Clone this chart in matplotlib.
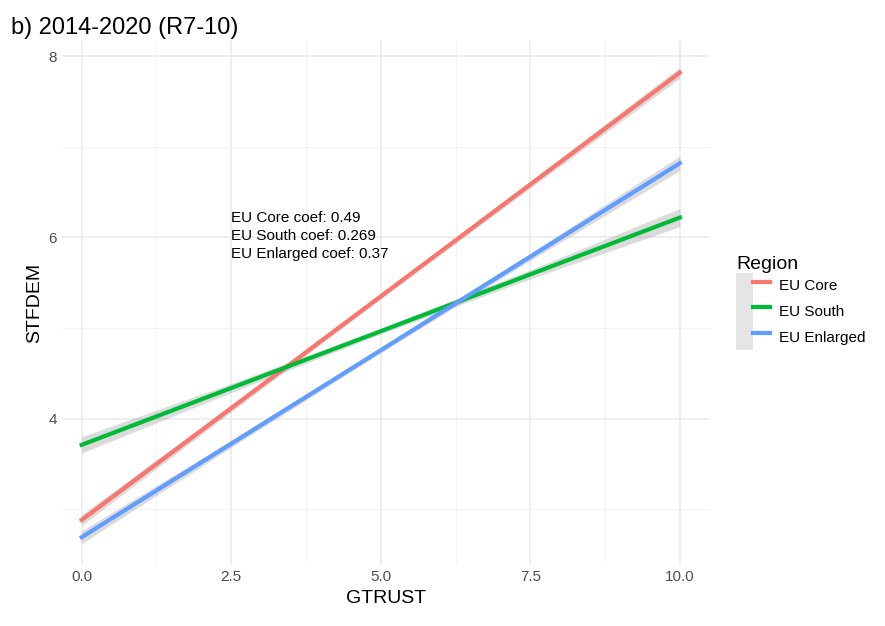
import numpy as np
import matplotlib.pyplot as plt
from matplotlib.lines import Line2D
from matplotlib.patches import Patch
from matplotlib.legend_handler import HandlerTuple

plt.rcParams['font.family'] = ['Liberation Sans', 'DejaVu Sans']

regions = ["EU Core", "EU South", "EU Enlarged"]
colors = ["#F8766D", "#00BA38", "#619CFF"]
intercepts = [2.88, 3.71, 2.69]
slopes = [0.494, 0.251, 0.413]
# half width of the confidence band at x = 0, 2.5, 5, 7.5, 10
band_x = [0, 2.5, 5, 7.5, 10]
band_hw = [
    [0.06, 0.04, 0.03, 0.04, 0.06],
    [0.09, 0.05, 0.03, 0.05, 0.10],
    [0.07, 0.04, 0.03, 0.04, 0.08],
]
coef_text = ["EU Core coef: 0.49", "EU South coef: 0.269", "EU Enlarged coef: 0.37"]

fig = plt.figure(figsize=(8.85, 6.26), dpi=100)
ax = fig.add_axes([0.07, 0.097, 0.732, 0.839])

xs = np.linspace(0, 10, 50)
for name, c, a, b, hw in zip(regions, colors, intercepts, slopes, band_hw):
    y = a + b * xs
    w = np.interp(xs, band_x, hw)
    ax.fill_between(xs, y - w, y + w, color="#999999", alpha=0.35, lw=0)
    ax.plot(xs, y, color=c, lw=3)

for i, t in enumerate(coef_text):
    ax.text(2.5, 6.22 - i * 0.2, t, fontsize=11, va="center", ha="left")

ax.set_xlim(-0.33, 10.5)
ax.set_ylim(2.38, 8.18)
ax.set_xticks([0, 2.5, 5, 7.5, 10])
ax.set_xticklabels(["0.0", "2.5", "5.0", "7.5", "10.0"])
ax.set_yticks([4, 6, 8])
ax.set_xticks([1.25, 3.75, 6.25, 8.75], minor=True)
ax.set_yticks([3, 5, 7], minor=True)
ax.grid(which="major", color="#EBEBEB", lw=1.2)
ax.grid(which="minor", color="#F3F3F3", lw=0.7)
ax.set_axisbelow(True)
for s in ax.spines.values():
    s.set_visible(False)
ax.tick_params(which="both", length=0, labelsize=11, colors="#4D4D4D")
ax.set_xlabel("GTRUST", fontsize=14)
ax.set_ylabel("STFDEM", fontsize=14)
fig.text(0.012, 0.955, "b) 2014-2020 (R7-10)", fontsize=17, va="center")

handles = [(Patch(facecolor="#E5E5E5", edgecolor="none"), Line2D([0], [0], color=c, lw=3))
           for c in colors]
leg = ax.legend(handles, regions, title="Region", loc="center left",
                bbox_to_anchor=(1.02, 0.5), frameon=False, fontsize=11,
                title_fontsize=14, handlelength=2.2, handleheight=2.2,
                labelspacing=0.0, handletextpad=0.6,
                handler_map={tuple: HandlerTuple(ndivide=None, pad=0)})
leg._legend_box.align = "left"

fig.savefig("out.png")
